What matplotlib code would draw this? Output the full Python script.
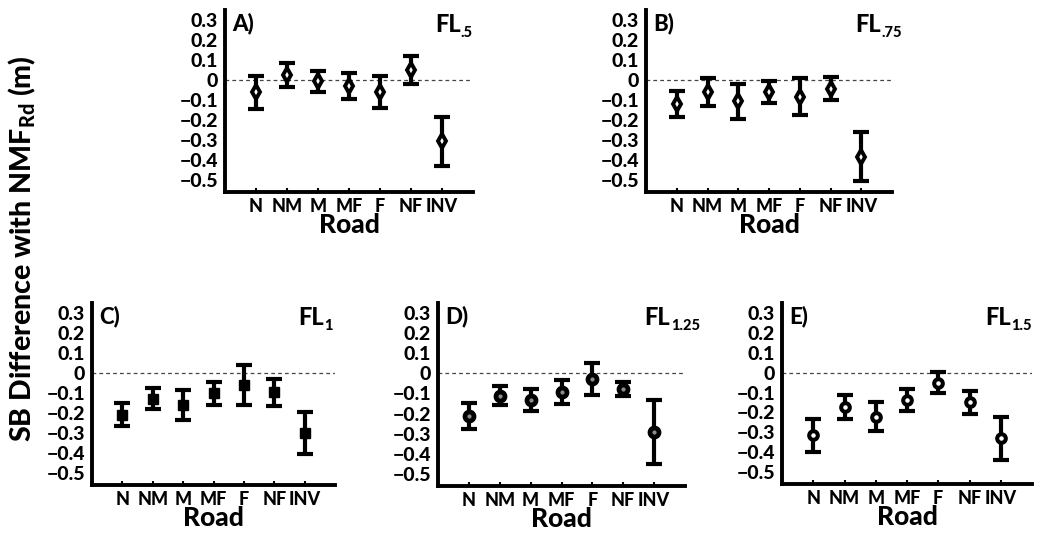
import matplotlib
matplotlib.use("Agg")
import matplotlib.pyplot as plt
from matplotlib.transforms import offset_copy

WEIGHT = 'black'
plt.rcParams['font.family'] = ['Lato', 'DejaVu Sans']
plt.rcParams['font.weight'] = WEIGHT
plt.rcParams['mathtext.fontset'] = 'custom'
plt.rcParams['mathtext.rm'] = 'Lato:black'
plt.rcParams['mathtext.bf'] = 'Lato:black'
plt.rcParams['mathtext.it'] = 'Lato:black'

categories = ['N', 'NM', 'M', 'MF', 'F', 'NF', 'INV']
yticks = [0.3, 0.2, 0.1, 0, -0.1, -0.2, -0.3, -0.4, -0.5]
ytick_labels = ['0.3', '0.2', '0.1', '0', '\u22120.1', '\u22120.2', '\u22120.3', '\u22120.4', '\u22120.5']

# mean difference and error half-width per road type, one pair per flood level
fl05_mean = [-0.062, 0.025, -0.006, -0.030, -0.061, 0.052, -0.307]
fl05_err = [0.084, 0.058, 0.053, 0.067, 0.081, 0.070, 0.124]
fl075_mean = [-0.122, -0.060, -0.107, -0.061, -0.083, -0.044, -0.384]
fl075_err = [0.065, 0.068, 0.086, 0.056, 0.092, 0.057, 0.122]
fl1_mean = [-0.208, -0.128, -0.162, -0.102, -0.060, -0.097, -0.301]
fl1_err = [0.059, 0.053, 0.075, 0.057, 0.098, 0.067, 0.104]
fl125_mean = [-0.212, -0.110, -0.132, -0.093, -0.026, -0.078, -0.292]
fl125_err = [0.063, 0.048, 0.055, 0.060, 0.079, 0.036, 0.158]
fl15_mean = [-0.315, -0.172, -0.222, -0.139, -0.052, -0.150, -0.330]
fl15_err = [0.082, 0.059, 0.073, 0.056, 0.053, 0.058, 0.108]

panels = [
    ('A)', '.5', fl05_mean, fl05_err,
     dict(marker='d', ms=7.5, mfc='white', mec='black', mew=2.8), 1.0),
    ('B)', '.75', fl075_mean, fl075_err,
     dict(marker='d', ms=7.5, mfc='white', mec='black', mew=2.8), 1.04),
    ('C)', '1', fl1_mean, fl1_err,
     dict(marker='s', ms=7, mfc='black', mec='black', mew=1.0), 0.99),
    ('D)', '1.25', fl125_mean, fl125_err,
     dict(marker='o', ms=6.5, mfc='#8c8c8c', mec='black', mew=3.4), 1.06),
    ('E)', '1.5', fl15_mean, fl15_err,
     dict(marker='o', ms=6.2, mfc='white', mec='black', mew=2.9), 1.0),
]

W, H = 1042, 535
fig = plt.figure(figsize=(W / 100, H / 100), dpi=100)
renderer = fig.canvas.get_renderer()

# axes boxes in pixels: left, right, top, bottom
boxes = [(225, 473, 10, 192), (646, 892, 10, 192),
         (92, 335, 303, 485), (438, 685, 303, 486), (782, 1032, 303, 484)]

x = list(range(1, len(categories) + 1))


def subscript_title(ax, xpos, ypos, main, sub):
    s = ax.text(xpos, ypos, sub, transform=ax.transAxes, ha='right',
                va='baseline', fontsize=10.5, fontweight=WEIGHT)
    w_pts = s.get_window_extent(renderer).width * 72 / fig.dpi
    tr = offset_copy(ax.transAxes, fig=fig, x=-w_pts - 0.3, y=4.0, units='points')
    ax.text(xpos, ypos, main, transform=tr, ha='right', va='baseline',
            fontsize=17, fontweight=WEIGHT)


for (tag, sub, mean, err, mstyle, tx), (l, r, t, b) in zip(panels, boxes):
    ax = fig.add_axes([l / W, 1 - b / H, (r - l) / W, (b - t) / H])
    ax.axhline(0, color='#444444', lw=0.9, ls=(0, (3, 2.5)), zorder=1)
    ax.errorbar(x, mean, yerr=err, fmt='none', ecolor='black', elinewidth=3.0,
                capsize=6, capthick=3.0, zorder=2)
    ax.plot(x, mean, ls='none', zorder=3, **mstyle)
    ax.set_xlim(0, 8)
    ax.set_ylim(-0.56, 0.35)
    ax.set_xticks(x)
    ax.set_xticklabels(categories, fontsize=13, fontweight=WEIGHT)
    ax.set_yticks(yticks)
    ax.set_yticklabels(ytick_labels, fontsize=14, fontweight=WEIGHT)
    ax.tick_params(axis='x', direction='in', length=3, width=1.5, pad=4)
    ax.tick_params(axis='y', length=0, pad=5)
    for s in ('top', 'right'):
        ax.spines[s].set_visible(False)
    for s in ('left', 'bottom'):
        ax.spines[s].set_linewidth(2.8)
    ax.set_xlabel('Road', fontsize=19, fontweight=WEIGHT, labelpad=-1)
    ax.text(0.03, 0.985, tag, transform=ax.transAxes, ha='left', va='top',
            fontsize=16, fontweight=WEIGHT)
    subscript_title(ax, tx, 0.85, 'FL', sub)

fig.text(22 / W, 1 - 249 / H, r'SB Difference with NMF$_{\mathbf{Rd}}$ (m)',
         rotation=90, ha='center', va='center', fontsize=20.5, fontweight=WEIGHT)

fig.savefig('out.png', dpi=100)
